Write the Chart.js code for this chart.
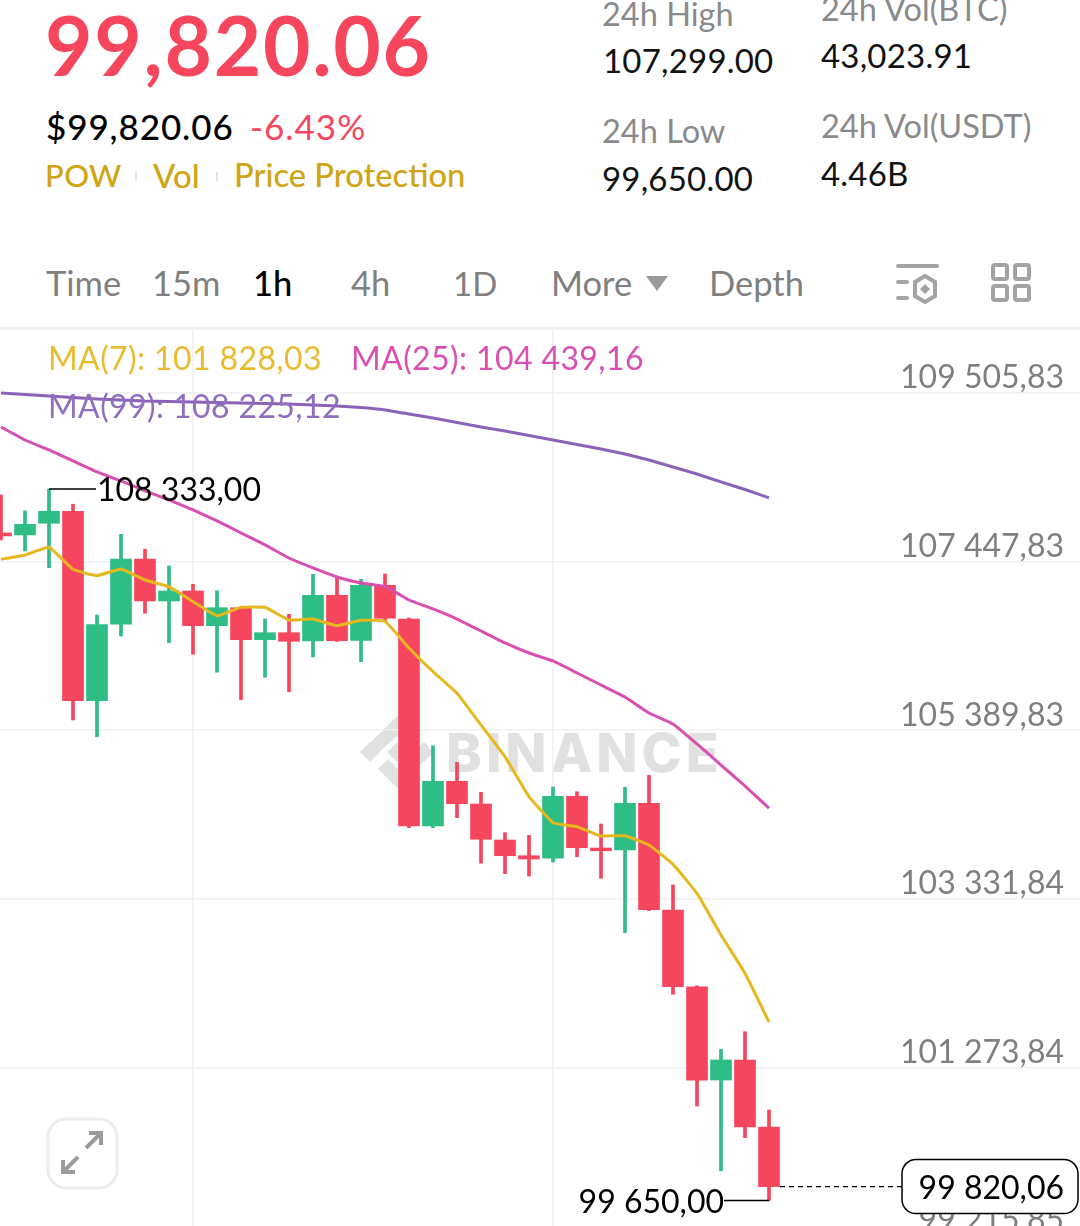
<!DOCTYPE html>
<html>
<head>
<meta charset="utf-8">
<title>BTC/USDT 1h</title>
<script src="https://cdn.jsdelivr.net/npm/chart.js@4"></script>
<style>
  html, body { margin: 0; padding: 0; background: #fff; }
  body { position: relative; width: 1080px; height: 1226px; overflow: hidden; font-family: Lato, sans-serif; }
  .t { position: absolute; white-space: nowrap; line-height: 1; transform: translateY(calc(-50% - 1.5px)); }
  .gold { color: #d0a415; font-size: 33px; font-weight: 500; }
  .stat { font-size: 33px; color: #111; letter-spacing: 0.2px; }
  .label { font-size: 32.5px; color: #8a8a8a; }
  .tab { font-size: 34.5px; color: #7f7f7f; top: 285px; }
  .ma { font-size: 32px; letter-spacing: 0.4px; }
  #watermark { position: absolute; left: 360px; top: 716px; }
  #chartCanvas { position: absolute; left: 0; top: 328px; }
  #topLine { position: absolute; left: 0; top: 327px; width: 1080px; height: 3px; background: #f1f1f1; }
</style>
</head>
<body>
  <div class="t" style="left:45px;top:45px;font-size:82px;font-weight:700;color:#f6465d;letter-spacing:1.7px">99,820.06</div>
  <div class="t" style="left:46px;top:128px;font-size:35px;font-weight:500;color:#000;letter-spacing:0.9px">$99,820.06</div>
  <div class="t" style="left:250px;top:128px;font-size:35px;color:#f6465d;letter-spacing:1px">-6.43%</div>
  <div class="t gold" style="left:45px;top:177px;font-size:31px;letter-spacing:0.4px">POW</div>
  <div style="position:absolute;left:135px;top:172px;width:2px;height:9px;background:#e4e4e4"></div>
  <div class="t gold" style="left:153px;top:177px">Vol</div>
  <div style="position:absolute;left:216px;top:172px;width:2px;height:9px;background:#e4e4e4"></div>
  <div class="t gold" style="left:234px;top:177px;font-size:32.7px">Price Protection</div>

  <div class="t label" style="left:602px;top:16px">24h High</div>
  <div class="t stat" style="left:603px;top:62px">107,299.00</div>
  <div class="t label" style="left:602px;top:133px">24h Low</div>
  <div class="t stat" style="left:602px;top:180px">99,650.00</div>
  <div class="t label" style="left:821px;top:11px">24h Vol(BTC)</div>
  <div class="t stat" style="left:821px;top:57px">43,023.91</div>
  <div class="t label" style="left:821px;top:128px">24h Vol(USDT)</div>
  <div class="t stat" style="left:821px;top:175px">4.46B</div>

  <div class="t tab" style="left:46px">Time</div>
  <div class="t tab" style="left:152px">15m</div>
  <div class="t tab" style="left:253px;color:#000;font-weight:500">1h</div>
  <div class="t tab" style="left:351px">4h</div>
  <div class="t tab" style="left:453px;font-size:33px">1D</div>
  <div class="t tab" style="left:551px">More</div>
  <svg style="position:absolute;left:646px;top:276px" width="22" height="15"><path d="M0 0H22L11 15Z" fill="#9a9a9a"/></svg>
  <div class="t tab" style="left:709px">Depth</div>
  <svg style="position:absolute;left:895px;top:262px" width="46" height="44" fill="none" stroke="#a3a3a3" stroke-width="4" stroke-linecap="round">
    <path d="M3 4H42M3 20H12M3 36H12"/>
    <path d="M30 14L40 20V34L30 40L20 34V20Z" stroke-linecap="butt"/>
    <path d="M30 22L35 27L30 32L25 27Z" fill="#a3a3a3" stroke="none"/>
  </svg>
  <svg style="position:absolute;left:990px;top:262px" width="43" height="40" fill="none" stroke="#a3a3a3" stroke-width="4">
    <rect x="3" y="3" width="14" height="14" rx="2"/><rect x="25" y="3" width="14" height="14" rx="2"/>
    <rect x="3" y="24" width="14" height="14" rx="2"/><rect x="25" y="24" width="14" height="14" rx="2"/>
  </svg>

  <div id="topLine"></div>

  <svg id="watermark" width="362" height="72">
    <g fill="#e1e1e1">
      <path d="M37 0L56 19L46 29L37 20L17 38L8 29Z"/>
      <path d="M37 72L18 53L28 43L37 52L57 34L66 43Z"/>
      <path d="M0 36L10 26L20 36L10 46Z"/>
      <path d="M54 36L64 26L74 36L64 46Z"/>
      <path d="M27 36L37 26L47 36L37 46Z"/>
    </g>
    <text x="86" y="56" font-family="Inter, sans-serif" font-weight="800" font-size="54" letter-spacing="4" fill="#e1e1e1">BINANCE</text>
  </svg>

  <canvas id="chartCanvas" width="1080" height="930"></canvas>

  <div class="t ma" style="left:48px;top:359px;color:#e8bc2e">MA(7): 101 828,03</div>
  <div class="t ma" style="left:351px;top:359px;color:#db4fb0">MA(25): 104 439,16</div>
  <div class="t ma" style="left:48px;top:407px;color:#8f6ec0">MA(99): 108 225,12</div>

  <svg style="position:absolute;left:46px;top:1117px" width="73" height="73" fill="none">
    <rect x="2" y="2" width="69" height="69" rx="18" stroke="#ececec" stroke-width="3"/>
    <path d="M40 31L55 16M43 16H55V28M32 40L17 55M29 55H17V43" stroke="#9b9b9b" stroke-width="4"/>
  </svg>

<script>
// candles
const candleIndex = [0,1,2,3,4,5,6,7,8,9,10,11,12,13,14,15,16,17,18,19,20,21,22,23,24,25,26,27,28,29,30,31,32];
const opens  = [107797,107773,107916,108062,105750,106683,107480,106967,107089,106666,106885,106495,106580,106479,107037,106487,107159,106747,104221,104766,104489,104050,103858,103827,104583,103952,103928,104498,103195,102259,101120,101365,100545];
const closes = [107761,107903,108062,105750,106678,107480,106967,107089,106666,106885,106495,106580,106475,107037,106483,107159,106756,104221,104766,104493,104059,103858,103818,104583,103956,103919,104498,103199,102259,101120,101365,100547,99820.06];
const highs  = [108261,108066,108333,108148,106796,107781,107598,107394,107171,107093,106885,106747,106805,107293,107264,107232,107297,106760,105201,104998,104632,104139,104107,104697,104639,104245,104693,104840,103501,102270,101495,101710,100754];
const lows   = [107712,107578,107374,105515,105311,106540,106817,106458,106317,106097,105762,106036,105860,106284,106473,106226,106715,104200,104200,104322,103766,103639,103610,103781,103846,103582,102918,103187,102167,100803,100013,100416,99650];

const ma7  = [107476,107529,107623,107354,107276,107358,107223,107142,106959,106788,106890,106890,106735,106747,106666,106732,106719,106393,106104,105841,105454,105067,104578,104261,104212,104099,104102,103989,103753,103399,102890,102423,101828];
const ma25 = [109091,108932,108810,108676,108542,108432,108310,108200,108078,107944,107797,107651,107492,107370,107260,107187,107144,106979,106870,106747,106601,106455,106332,106235,106088,105942,105795,105600,105466,105222,104965,104709,104439];
const ma99 = [109506,109488,109469,109451,109433,109421,109408,109402,109396,109390,109384,109378,109372,109360,109347,109329,109299,109250,109201,109146,109091,109042,108987,108932,108877,108823,108761,108688,108603,108517,108420,108328,108225];

const yTicks = [109505.83,107447.83,105389.83,103331.84,101273.84,99215.85];
const yTickLabels = ['109 505,83','107 447,83','105 389,83','103 331,84','101 273,84','99 215,85'];
const xGridAt = [8,23];

const highValue = 108333;
const highIndex = 2;
const lowValue = 99650;
const lowIndex = 32;
const lastPrice = 99820.06;

const UP = '#2ebd85';
const DOWN = '#f6465d';

function candleColor(c) {
    return closes[c.dataIndex] >= opens[c.dataIndex] ? UP : DOWN;
}
function points(values) {
    return values.map((v, i) => ({x: candleIndex[i], y: v}));
}
function maLine(values, color) {
    return {type: 'line', data: points(values), borderColor: color, borderWidth: 3, pointRadius: 0, tension: 0.1, order: 0};
}

// high/low markers and the last price tag
const priceMarks = {
    id: 'priceMarks',
    afterDraw(chart) {
        const {ctx, scales: {x, y}} = chart;
        ctx.save();
        ctx.font = '32px Lato, sans-serif';
        ctx.textBaseline = 'middle';
        ctx.strokeStyle = '#000';
        ctx.fillStyle = '#000';
        ctx.lineWidth = 1.5;

        const hx = x.getPixelForValue(highIndex), hy = y.getPixelForValue(highValue);
        ctx.beginPath(); ctx.moveTo(hx, hy); ctx.lineTo(hx + 47, hy); ctx.stroke();
        ctx.textAlign = 'left';
        ctx.fillText('108 333,00', hx + 48, hy + 2);

        const lx = x.getPixelForValue(lowIndex), ly = y.getPixelForValue(lowValue);
        ctx.beginPath(); ctx.moveTo(lx, ly); ctx.lineTo(lx - 45, ly); ctx.stroke();
        ctx.textAlign = 'right';
        ctx.fillText('99 650,00', lx - 45, ly + 2);

        const py = y.getPixelForValue(lastPrice);
        ctx.lineWidth = 1.2;
        ctx.setLineDash([5, 4]);
        ctx.beginPath(); ctx.moveTo(lx + 11, py); ctx.lineTo(902, py); ctx.stroke();
        ctx.setLineDash([]);

        ctx.fillStyle = '#fff';
        ctx.lineWidth = 1.5;
        ctx.beginPath(); ctx.roundRect(902, py - 27, 176, 54, 14); ctx.fill(); ctx.stroke();
        ctx.fillStyle = '#000';
        ctx.fillText('99 820,06', 1064, py + 2);
        ctx.restore();
    }
};

new Chart(document.getElementById('chartCanvas').getContext('2d'), {
    type: 'bar',
    data: {
        datasets: [
            maLine(ma99, '#8a63b8'),
            maLine(ma25, '#d94fb0'),
            maLine(ma7, '#e6b81e'),
            {data: candleIndex.map(i => ({x: i, y: [opens[i], closes[i]]})), backgroundColor: candleColor, barThickness: 21, grouped: false, borderSkipped: false, order: 1},
            {data: candleIndex.map(i => ({x: i, y: [lows[i], highs[i]]})), backgroundColor: candleColor, barThickness: 3, grouped: false, borderSkipped: false, order: 2}
        ]
    },
    options: {
        responsive: false,
        devicePixelRatio: 1,
        animation: false,
        layout: {padding: 0, autoPadding: false},
        plugins: {legend: {display: false}, tooltip: {enabled: false}},
        scales: {
            x: {
                type: 'linear',
                min: -1 / 24,
                max: 1079 / 24,
                bounds: 'data',
                offset: false,
                border: {display: false},
                grid: {offset: false, color: '#f1f1f1', lineWidth: 1.5, drawTicks: false},
                ticks: {display: false},
                afterBuildTicks(scale) { scale.ticks = xGridAt.map(v => ({value: v})); }
            },
            y: {
                position: 'right',
                min: 98948,
                max: 110299,
                bounds: 'data',
                border: {display: false},
                grid: {color: '#f1f1f1', lineWidth: 1.5, drawTicks: false},
                ticks: {
                    mirror: true,
                    padding: -16,
                    labelOffset: -15,
                    autoSkip: false,
                    color: '#7f7f7f',
                    font: {family: 'Lato, sans-serif', size: 32},
                    callback: (v, i) => yTickLabels[i]
                },
                afterBuildTicks(scale) { scale.ticks = yTicks.map(v => ({value: v})); },
                // labels sit inside the plot, keep the axis from insetting it
                afterFit(scale) { scale.width = 0; scale.paddingTop = 0; scale.paddingBottom = 0; }
            }
        }
    },
    plugins: [priceMarks]
});
</script>
</body>
</html>
